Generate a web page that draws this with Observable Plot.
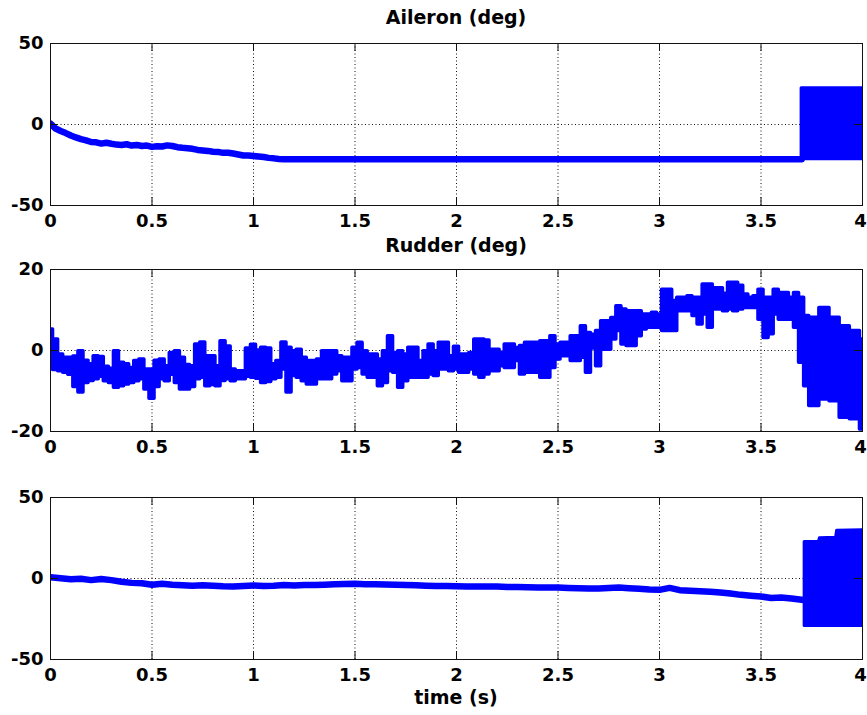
<!DOCTYPE html>
<html><head><meta charset="utf-8">
<script src="https://cdn.jsdelivr.net/npm/d3@7"></script>
<script src="https://cdn.jsdelivr.net/npm/@observablehq/plot@0.6"></script>
<style>
body{margin:0;background:#fff;}
#c{position:relative;width:867px;height:715px;background:#fff;overflow:hidden;font-family:"DejaVu Sans",sans-serif;font-weight:bold;color:#000;}
.ttl{position:absolute;left:50px;width:812px;text-align:center;font-size:19px;line-height:19px;}
.pnl{position:absolute;left:0;}
</style></head><body><div id="c"></div>
<script>
// ---------- data ----------
const X_TICKS = [0, 0.5, 1, 1.5, 2, 2.5, 3, 3.5, 4];
const X_GRID = [0.5, 1, 1.5, 2, 2.5, 3, 3.5];
const Y_TICKS_AIL = [-50, 0, 50];
const Y_TICKS_RUD = [-20, 0, 20];
const Y_TICKS_BOT = [-50, 0, 50];
const TITLE_AIL = "Aileron (deg)";
const TITLE_RUD = "Rudder (deg)";
const X_LABEL = "time (s)";

// Aileron (deg): smooth part
const AIL_T = [0, 0.025, 0.05, 0.075, 0.1, 0.125, 0.15, 0.175, 0.2, 0.225, 0.25, 0.275, 0.3, 0.325, 0.35, 0.375, 0.4, 0.425, 0.45, 0.475, 0.5, 0.525, 0.55, 0.575, 0.6, 0.625, 0.65, 0.675, 0.7, 0.725, 0.75, 0.775, 0.8, 0.825, 0.85, 0.875, 0.9, 0.925, 0.95, 0.975, 1.0, 1.025, 1.05, 1.075, 1.1, 1.125, 1.15, 1.175, 3.7];
const AIL_Y = [0.5, -2.5, -4.0, -5.3, -6.8, -8.0, -9.0, -9.8, -10.8, -11.0, -11.8, -11.3, -11.9, -12.4, -12.6, -12.2, -13.0, -12.6, -13.3, -13.0, -13.8, -13.4, -13.6, -12.9, -13.3, -14.0, -14.4, -14.6, -15.0, -15.7, -16.0, -16.3, -16.8, -16.9, -17.5, -17.4, -17.9, -18.5, -19.1, -19.2, -19.5, -19.8, -20.1, -20.6, -20.9, -21.3, -21.5, -21.4, -21.4];
// Aileron oscillation envelope
const AIL_OSC_T = [3.7, 4.0];
const AIL_OSC_LO = [-21.4, -21.4];
const AIL_OSC_HI = [22.3, 22.3];

// Rudder (deg): envelope (low / high) of the noisy signal
const RUD_T = [0, 0.025, 0.05, 0.075, 0.1, 0.125, 0.15, 0.175, 0.2, 0.225, 0.25, 0.275, 0.3, 0.325, 0.35, 0.375, 0.4, 0.425, 0.45, 0.475, 0.5, 0.525, 0.55, 0.575, 0.6, 0.625, 0.65, 0.675, 0.7, 0.725, 0.75, 0.775, 0.8, 0.825, 0.85, 0.875, 0.9, 0.925, 0.95, 0.975,
  1.0, 1.025, 1.05, 1.075, 1.1, 1.125, 1.15, 1.175, 1.2, 1.225, 1.25, 1.275, 1.3, 1.325, 1.35, 1.375, 1.4, 1.425, 1.45, 1.475, 1.5, 1.525, 1.55, 1.575, 1.6, 1.625, 1.65, 1.675, 1.7, 1.725, 1.75, 1.775, 1.8, 1.825, 1.85, 1.875, 1.9, 1.925, 1.95, 1.975,
  2.0, 2.025, 2.05, 2.075, 2.1, 2.125, 2.15, 2.175, 2.2, 2.225, 2.25, 2.275, 2.3, 2.325, 2.35, 2.375, 2.4, 2.425, 2.45, 2.475, 2.5, 2.525, 2.55, 2.575, 2.6, 2.625, 2.65, 2.675, 2.7, 2.725, 2.75, 2.775, 2.8, 2.825, 2.85, 2.875, 2.9, 2.925, 2.95, 2.975,
  3.0, 3.025, 3.05, 3.075, 3.1, 3.125, 3.15, 3.175, 3.2, 3.225, 3.25, 3.275, 3.3, 3.325, 3.35, 3.375, 3.4, 3.425, 3.45, 3.475, 3.5, 3.525, 3.55, 3.575, 3.6, 3.625, 3.65, 3.675, 3.7, 3.725, 3.75, 3.775, 3.8, 3.825, 3.85, 3.875, 3.9, 3.925, 3.95, 3.975, 4.0];
const RUD_HI = [5.2, 2.7, -1.0, -1.8, -1.8, -1.5, -0.2, -2.5, -3.4, -1.4, -1.6, -4.0, -4.5, -0.2, -3.0, -3.4, -4.3, -2.6, -2.2, -4.7, -4.7, -2.5, -2.2, -3.9, -0.6, -0.2, -1.8, -3.6, -3.9, 1.5, 2.0, -1.4, -1.4, -3.9, 2.3, 1.0, -4.7, -5.1, -5.1, 0.5,
  1.4, 0.0, 0.7, 0.5, -3.4, -2.6, 2.0, 0.7, -0.2, 0.2, -1.8, -2.6, -2.6, -2.2, -0.2, -0.2, -0.2, -1.4, -1.8, -1.8, 0.7, 1.9, -0.2, -1.0, -1.0, -2.2, -0.2, 3.5, -0.6, -0.2, -1.0, 0.7, 0.7, -2.6, -0.2, 1.5, -0.2, 1.9, 1.9, -1.4,
  0.9, -1.0, -1.0, -0.6, 2.7, 2.7, 2.5, 0.2, 0.2, -0.6, 1.5, 1.5, 0.6, 1.1, 1.9, 1.9, 1.9, 2.3, 2.3, 3.5, 1.5, 1.9, 1.9, 3.5, 3.5, 6.0, 4.3, 3.9, 4.8, 7.2, 7.2, 8.0, 10.9, 10.1, 9.7, 9.7, 9.7, 8.9, 8.9, 9.3,
  8.9, 15.0, 15.0, 12.2, 13.0, 13.0, 13.4, 13.0, 13.0, 16.3, 16.3, 15.4, 15.4, 14.0, 16.7, 16.7, 16.0, 13.8, 13.0, 13.4, 15.0, 13.0, 13.0, 15.0, 14.2, 14.2, 13.0, 14.2, 13.0, 8.5, 8.1, 8.1, 10.5, 10.5, 8.1, 8.1, 6.0, 6.0, 4.8, 4.8, 2.7];
const RUD_LO = [-4.3, -4.8, -5.1, -5.5, -6.0, -9.0, -10.4, -8.0, -7.5, -7.1, -6.5, -7.6, -8.0, -9.2, -8.8, -8.4, -8.0, -7.6, -7.1, -9.6, -11.9, -9.0, -7.1, -7.6, -6.0, -8.0, -9.6, -9.6, -9.0, -7.1, -6.7, -8.8, -8.5, -8.8, -7.5, -7.1, -7.6, -7.1, -7.1, -6.5,
  -6.7, -7.0, -8.0, -7.8, -7.1, -6.7, -4.7, -10.4, -6.3, -6.7, -7.6, -8.4, -8.4, -7.1, -7.1, -7.1, -5.9, -5.1, -7.6, -7.6, -4.7, -4.3, -5.9, -6.7, -6.7, -8.8, -8.0, -5.1, -5.5, -9.2, -7.6, -6.7, -6.7, -6.7, -6.7, -5.9, -6.3, -4.7, -4.7, -5.1,
  -4.7, -5.5, -5.5, -4.7, -5.9, -6.7, -5.9, -5.1, -5.1, -3.9, -4.3, -4.3, -2.6, -5.9, -5.5, -5.5, -5.5, -6.7, -6.7, -4.3, -2.2, -1.4, -1.4, -2.6, -2.6, -1.8, -5.5, 0.5, -3.9, 0.2, 0.2, 2.7, 4.8, 1.5, 1.1, 1.1, 3.5, 5.2, 5.6, 5.6,
  5.6, 4.8, 4.8, 4.8, 9.7, 9.7, 9.7, 8.5, 6.4, 8.9, 5.6, 10.1, 10.1, 9.7, 10.1, 9.7, 10.1, 10.5, 10.5, 10.5, 7.6, 3.1, 4.0, 8.9, 7.6, 7.6, 7.6, 5.6, -3.0, -8.8, -13.7, -13.7, -12.1, -12.1, -12.5, -12.5, -16.6, -16.6, -17.0, -17.0, -19.5];

// Bottom panel (unlabelled): smooth part
const BOT_T = [0, 0.05, 0.1, 0.15, 0.2, 0.25, 0.3, 0.35, 0.4, 0.45, 0.5, 0.55, 0.6, 0.65, 0.7, 0.75, 0.8, 0.85, 0.9, 0.95, 1.0, 1.05, 1.1, 1.15, 1.2, 1.25, 1.3, 1.35, 1.4, 1.45, 1.5, 1.55, 1.6, 1.65, 1.7, 1.75, 1.8, 1.85, 1.9, 1.95, 2.0, 2.05, 2.1, 2.15, 2.2, 2.25, 2.3, 2.35, 2.4, 2.45, 2.5, 2.55, 2.6, 2.65, 2.7, 2.75, 2.8, 2.85, 2.9, 2.95, 3.0, 3.05, 3.1, 3.15, 3.2, 3.25, 3.3, 3.35, 3.4, 3.45, 3.5, 3.55, 3.6, 3.65, 3.7, 3.72];
const BOT_Y = [0.8, 0.2, -0.4, -0.2, -1.0, -0.3, -1.0, -2.0, -2.7, -2.9, -3.9, -3.3, -3.9, -4.1, -4.5, -4.2, -4.5, -4.8, -4.9, -4.6, -4.3, -4.6, -4.5, -4.0, -4.3, -4.0, -4.0, -3.8, -3.6, -3.4, -3.3, -3.5, -3.5, -3.7, -3.8, -4.0, -4.2, -4.4, -4.6, -4.7, -4.8, -5.0, -5.0, -4.9, -5.0, -5.2, -5.3, -5.4, -5.5, -5.6, -5.5, -5.8, -6.0, -6.1, -6.2, -5.8, -5.5, -6.0, -6.4, -6.8, -7.0, -5.8, -7.2, -7.5, -7.8, -8.2, -8.6, -9.3, -10.1, -10.6, -11.1, -12.0, -11.7, -12.3, -13.1, -13.5];
// Bottom panel oscillation envelope
const BOT_OSC_T = [3.715, 3.785, 3.79, 3.87, 3.875, 4.0];
const BOT_OSC_LO = [-29.3, -29.3, -29.3, -29.3, -29.3, -29.3];
const BOT_OSC_HI = [22.5, 22.5, 24.8, 25.2, 29.5, 29.8];

// ---------- tables ----------
const ail = AIL_T.map((t, i) => ({t, y: AIL_Y[i]}));
const ailOsc = AIL_OSC_T.map((t, i) => ({t, lo: AIL_OSC_LO[i], hi: AIL_OSC_HI[i]}));
const rud = RUD_T.map((t, i) => ({t, lo: RUD_LO[i], hi: RUD_HI[i]}));
const bot = BOT_T.map((t, i) => ({t, y: BOT_Y[i]}));
const botOsc = BOT_OSC_T.map((t, i) => ({t, lo: BOT_OSC_LO[i], hi: BOT_OSC_HI[i]}));

// ---------- drawing ----------
const BLUE = "#0000ff";
const W = 867, MT = 10, MB = 30, ML = 50, MR = 5, FH = 162;
const container = document.getElementById("c");
const fmt = d => String(d);

function panel(top, yTicks, dataMarks) {
  const svg = Plot.plot({
    width: W, height: MT + FH + MB,
    marginTop: MT, marginBottom: MB, marginLeft: ML, marginRight: MR,
    style: {fontFamily: "DejaVu Sans", fontWeight: "bold", fontSize: "18px", background: "transparent", color: "#000", overflow: "visible"},
    x: {domain: [0, 4]},
    y: {domain: [yTicks[0], yTicks[yTicks.length - 1]]},
    marks: [
      Plot.gridX(X_GRID, {stroke: "#111", strokeOpacity: 1, strokeDasharray: "1,2.5"}),
      Plot.gridY([0], {stroke: "#111", strokeOpacity: 1, strokeDasharray: "1,2.5"}),
      ...dataMarks,
      Plot.tickX(X_TICKS, {stroke: "#111", insetBottom: FH - 8}),
      Plot.tickX(X_TICKS, {stroke: "#111", insetTop: FH - 8}),
      Plot.tickY(yTicks, {stroke: "#111", insetRight: W - ML - MR - 8}),
      Plot.tickY(yTicks, {stroke: "#111", insetLeft: W - ML - MR - 8}),
      Plot.frame({stroke: "#111"}),
      Plot.axisX(X_TICKS.slice(0, -1), {tickSize: 0, tickPadding: 9, label: null, tickFormat: fmt}),
      Plot.axisX(X_TICKS.slice(-1), {tickSize: 0, tickPadding: 9, label: null, tickFormat: fmt, dx: -2}),
      Plot.axisY(yTicks, {tickSize: 0, tickPadding: 7, label: null, tickFormat: fmt})
    ]
  });
  svg.classList.add("pnl");
  svg.style.top = top + "px";
  container.appendChild(svg);
}

function title(text, top) {
  const d = document.createElement("div");
  d.className = "ttl";
  d.style.top = top + "px";
  d.textContent = text;
  container.appendChild(d);
}

panel(33, Y_TICKS_AIL, [
  Plot.line(ail, {x: "t", y: "y", stroke: BLUE, strokeWidth: 6.5, clip: true}),
  Plot.areaY(ailOsc, {x: "t", y1: "lo", y2: "hi", fill: BLUE, stroke: BLUE, strokeWidth: 3, clip: true})
]);
panel(259, Y_TICKS_RUD, [
  Plot.areaY(rud, {x: "t", y1: "lo", y2: "hi", curve: "step", fill: BLUE, stroke: BLUE, strokeWidth: 3.5, clip: true})
]);
panel(487, Y_TICKS_BOT, [
  Plot.line(bot, {x: "t", y: "y", stroke: BLUE, strokeWidth: 6.5, clip: true}),
  Plot.areaY(botOsc, {x: "t", y1: "lo", y2: "hi", fill: BLUE, stroke: BLUE, strokeWidth: 3, clip: true})
]);
title(TITLE_AIL, 8);
title(TITLE_RUD, 236);
title(X_LABEL, 688);
</script></body></html>
